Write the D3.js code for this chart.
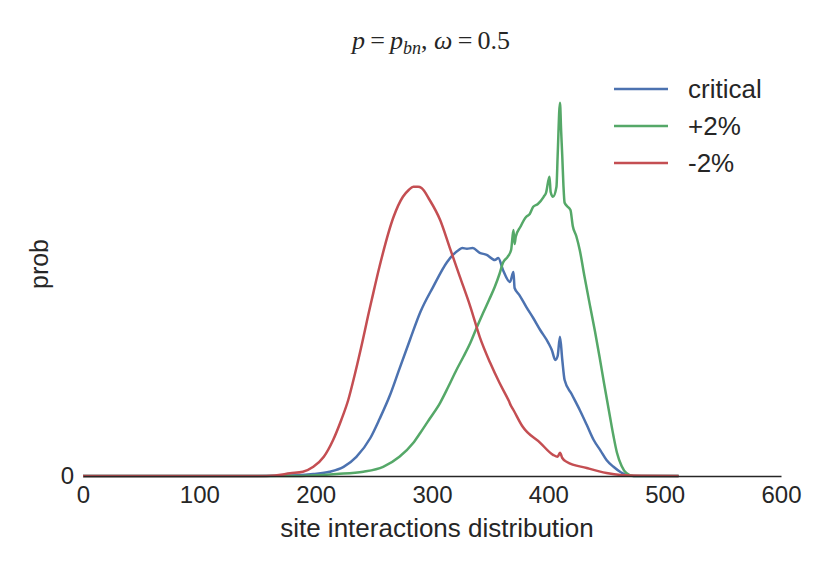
<!DOCTYPE html>
<html>
<head>
<meta charset="utf-8">
<script src="https://cdn.jsdelivr.net/npm/d3@7"></script>
<style>
  body { margin: 0; background: #fff; }
  svg { display: block; }
  text { font-family: "Liberation Sans", Arial, sans-serif; fill: #262626; }
</style>
</head>
<body>
<div id="chart"></div>
<script>
// tick labels
const xTicks = [0, 100, 200, 300, 400, 500, 600];
const yTicks = [0];

// critical
const criticalX = [0,150,185,198,212,224,235,247,255,264,272,281,290,301,313,318,323,326,330,335,341,347,354,357,361,367,370,371,375,381,387,393,400,403,406,408,410,412,414,420,427,433,439,445,450,456,462,468,480,512];
const criticalY = [0,0,0.00002,0.00005,0.0001075,0.00023,0.00048,0.00095,0.00143,0.00203,0.00268,0.0034,0.0041,0.00473,0.00535,0.00553,0.00565,0.0057,0.00568,0.0057,0.00558,0.00553,0.0054,0.00545,0.00515,0.00485,0.0051,0.0047,0.00453,0.00423,0.00395,0.00365,0.00333,0.00315,0.0029,0.003,0.00348,0.0029,0.0024,0.00205,0.00165,0.00128,0.0009,0.00063,0.0004,0.00023,0.0001,0.0000125,0,0];

// +2%
const plusX = [0,180,218,241,258,272,284,290,298,307,314,321,327,333,338,344,349,354,358,361,365,368,370,371,372,376,381,384,387,391,396,398,401,402,404,407,408,410,411,412,413,414,416,419,421,424,427,431,436,440,444,448,453,456,459,463,467,473,512];
const plusY = [0,0,0.00005,0.0001075,0.00023,0.00048,0.00083,0.00108,0.00143,0.00183,0.00223,0.00265,0.00298,0.00333,0.00368,0.00408,0.0044,0.00473,0.00505,0.00533,0.00548,0.00565,0.00615,0.0058,0.00598,0.00623,0.00648,0.00655,0.00673,0.0068,0.00698,0.00708,0.00748,0.0071,0.00698,0.00723,0.008,0.00933,0.00863,0.00798,0.00725,0.00683,0.00675,0.00665,0.00625,0.006,0.00565,0.005,0.00423,0.00363,0.00298,0.0023,0.00148,0.001,0.00058,0.00025,0.000075,0,0];

// -2%
const minusX = [0,100,150,165,178,189,198,207,215,222,228,234,240,245,248,255,267,275,280,284,288,291,298,307,315,324,333,341,350,358,366,368,370,378,393,404,408,410,412,416,433,450,462,480,512];
const minusY = [0,0,0,0.0000125,0.0000675,0.0001075,0.00023,0.00048,0.0009,0.0014,0.0019,0.00258,0.00333,0.004,0.00438,0.00525,0.00648,0.00698,0.00715,0.00723,0.00723,0.0072,0.0069,0.0064,0.00573,0.00498,0.00423,0.00348,0.00283,0.00233,0.00188,0.00175,0.00165,0.00123,0.00083,0.00053,0.00048,0.00058,0.00045,0.00035,0.0002,0.000075,0.000025,0.000005,0];

const seriesNames = ['critical', '+2%', '-2%'];
const colours = ['#4C72B0', '#55A868', '#C44E52'];

const width = 830;
const height = 571;

const margin = {
    top: 60,
    left: 83,
    right: 49,
    bottom: 95,
};

const svg = d3.select('#chart').append('svg')
    .attr('width', width)
    .attr('height', height);

// SCALES
const xScale = d3.scaleLinear()
    .domain([0, 600])
    .range([margin.left, width - margin.right]);

const yScale = d3.scaleLinear()
    .domain([0, 0.0104])
    .range([height - margin.bottom, margin.top]);

const series = [
    criticalX.map((x, i) => ({ x: x, y: criticalY[i] })),
    plusX.map((x, i) => ({ x: x, y: plusY[i] })),
    minusX.map((x, i) => ({ x: x, y: minusY[i] })),
];

const line = d3.line()
    .x(d => xScale(d.x))
    .y(d => yScale(d.y))
    .curve(d3.curveMonotoneX);

// LINES
series.forEach((s, i) => {
    svg.append('path')
        .datum(s)
        .attr('fill', 'none')
        .attr('stroke', colours[i])
        .attr('stroke-width', 2.5)
        .attr('stroke-linejoin', 'round')
        .attr('d', line);
});

// AXES
const xAxis = svg.append('g')
    .attr('transform', `translate(0,${yScale(0)})`)
    .call(d3.axisBottom(xScale).tickValues(xTicks).tickSize(0).tickPadding(10));
xAxis.select('.domain').attr('stroke', '#262626').attr('stroke-width', 1.6);
xAxis.selectAll('text')
    .style('font-size', '24px')
    .style('font-family', '"Liberation Sans", Arial, sans-serif')
    .attr('fill', '#262626');

const yAxis = svg.append('g')
    .attr('transform', `translate(${margin.left},0)`)
    .call(d3.axisLeft(yScale).tickValues(yTicks).tickFormat(d3.format('d')).tickSize(0).tickPadding(9));
yAxis.select('.domain').remove();
yAxis.selectAll('text')
    .style('font-size', '24px')
    .style('font-family', '"Liberation Sans", Arial, sans-serif')
    .attr('fill', '#262626');

// LABELS
svg.append('text')
    .attr('x', 437)
    .attr('y', 537)
    .attr('text-anchor', 'middle')
    .style('font-size', '26px')
    .text('site interactions distribution');

svg.append('text')
    .attr('transform', 'rotate(-90)')
    .attr('x', -264)
    .attr('y', 48)
    .attr('text-anchor', 'middle')
    .style('font-size', '25px')
    .text('prob');

// TITLE
const title = svg.append('text')
    .attr('x', 431)
    .attr('y', 49)
    .attr('text-anchor', 'middle')
    .style('font-family', '"Liberation Serif", "DejaVu Serif", serif')
    .style('font-size', '26px')
    .style('fill', '#262626');
title.append('tspan').style('font-style', 'italic').text('p');
title.append('tspan').text('\u2009=\u2009');
title.append('tspan').style('font-style', 'italic').text('p');
title.append('tspan').style('font-style', 'italic').style('font-size', '18px').attr('dy', 5).text('bn');
title.append('tspan').attr('dy', -5).text(', ');
title.append('tspan').style('font-style', 'italic').text('\u03c9');
title.append('tspan').text('\u2009=\u20090.5');

// LEGEND
const legend = svg.append('g');
seriesNames.forEach((name, i) => {
    const ly = 89 + i * 37;
    legend.append('line')
        .attr('x1', 614)
        .attr('x2', 668)
        .attr('y1', ly)
        .attr('y2', ly)
        .attr('stroke', colours[i])
        .attr('stroke-width', 2.5);
    legend.append('text')
        .attr('x', 688)
        .attr('y', ly)
        .attr('dominant-baseline', 'central')
        .style('font-size', '26px')
        .text(name);
});
</script>
</body>
</html>
